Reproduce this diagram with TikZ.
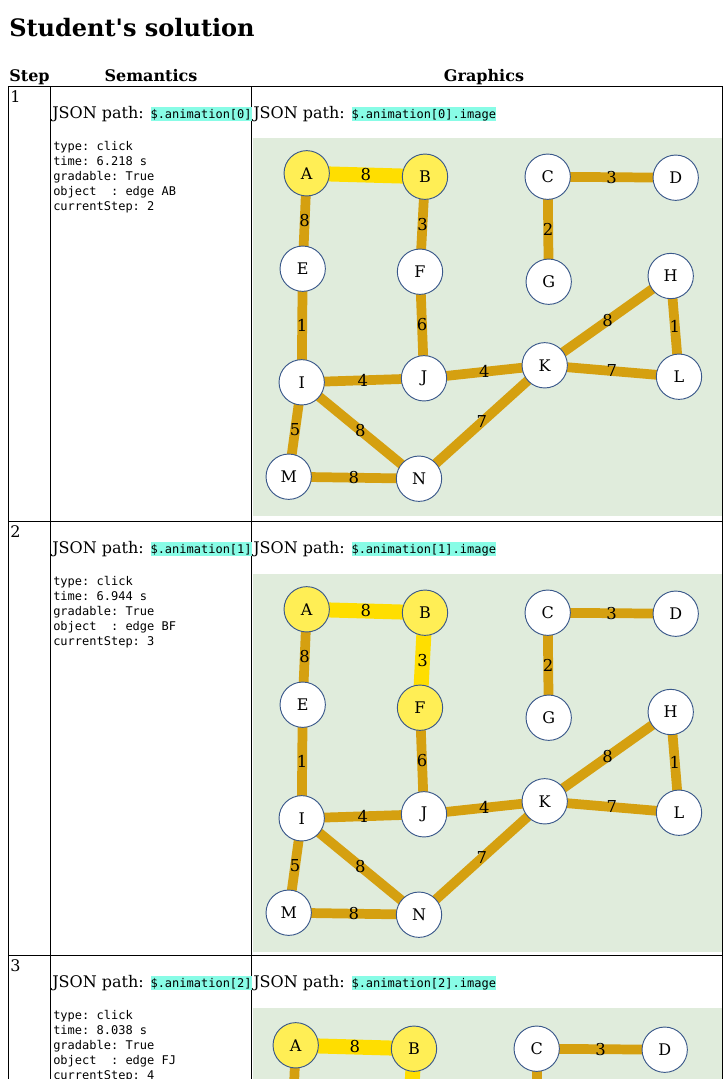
\documentclass[tikz,border=0pt]{standalone}
\usepackage{fontspec}
\setmainfont{DejaVu Serif}
\setmonofont{DejaVu Sans Mono}
\newfontfamily\rawserif{DejaVu Serif}
\usetikzlibrary{positioning, backgrounds}
\definecolor{panelgreen}{RGB}{224, 236, 220}
\definecolor{edgeorange}{RGB}{213, 160, 16}
\definecolor{edgeyellow}{RGB}{255, 222, 0}
\definecolor{nodeyellow}{RGB}{255, 238, 85}
\definecolor{nodeblue}{RGB}{58, 88, 138}
\definecolor{jsoncyan}{RGB}{136, 252, 230}
\setlength{\fboxsep}{0pt}
\newcommand{\jsoncode}[1]{\colorbox{jsoncyan}{\rule[-2.1pt]{0pt}{10.5pt}\ttfamily\fontsize{9}{11}\selectfont #1}}

\begin{document}
\begin{tikzpicture}[x=0.75pt, y=-0.75pt,
        % --- TikZ Styles ---
        titletext/.style={anchor=base west, inner sep=0, font=\rawserif\bfseries\fontsize{18}{22}\selectfont},
        headtext/.style={anchor=base, inner sep=0, font=\bfseries\fontsize{12}{14}\selectfont},
        celltext/.style={anchor=base west, inner sep=0, font=\fontsize{12}{14}\selectfont},
        eventtext/.style={anchor=north west, inner sep=0, align=left, font=\ttfamily\fontsize{9}{11.25}\selectfont},
        gridline/.style={draw=black, line width=0.75pt},
        panel/.style={fill=panelgreen},
        vertex/.style={circle, draw=nodeblue, line width=0.7pt, fill=white,
            minimum size=34pt, inner sep=0, font=\fontsize{12}{14}\selectfont},
        edge/.style={draw=edgeorange, line width=7.3pt},
        weight/.style={inner sep=0, font=\fontsize{12.3}{14}\selectfont},
        chosen/.style={fill=nodeyellow},
        chosenedge/.style={draw=edgeyellow, line width=11.25pt},
        % highlighted vertices and edges of each step
        hl1A/.style={chosen}, hl1B/.style={chosen}, hl1AB/.style={chosenedge},
        hl2A/.style={chosen}, hl2B/.style={chosen}, hl2F/.style={chosen},
        hl2AB/.style={chosenedge}, hl2BF/.style={chosenedge},
        hl3A/.style={chosen}, hl3B/.style={chosen}, hl3F/.style={chosen}, hl3J/.style={chosen},
        hl3AB/.style={chosenedge}, hl3BF/.style={chosenedge}, hl3FJ/.style={chosenedge}
    ]
    \useasboundingbox (0,0) rectangle (724,1079);
    \clip (0,0) rectangle (724,1079);

    % --- 1. TITLE AND HEADER ---
    \node[titletext] (title) at (9,36) {Student's solution};
    \node[headtext] (hstep) at (29.5,81) {Step};
    \node[headtext] (hsem) at (151,81) {Semantics};
    \node[headtext] (hgfx) at (484,81) {Graphics};

    % --- 2. TABLE RULES ---
    \draw[gridline] (8,1079) -- (8,86) -- (722.5,86) -- (722.5,1079);
    \draw[gridline] (50,86) -- (50,1079);
    \draw[gridline] (251,86) -- (251,1079);
    \draw[gridline] (8,521) -- (722.5,521);
    \draw[gridline] (8,955) -- (722.5,955);

    % --- 3. STEP, SEMANTICS AND PATH TEXTS ---
    \foreach \r/\k/\dy/\t/\e/\c in {1/0/0/6.218/AB/2, 2/1/435/6.944/BF/3, 3/2/869/8.038/FJ/4} {
        \begin{scope}[shift={(0,\dy)}]
            \node[celltext] (step\r) at (10,102) {\r};
            \node[celltext] (sem\r) at (52,118) {JSON path: \jsoncode{\$.animation[\k]}};
            \node[celltext] (gfx\r) at (253,118) {JSON path: \jsoncode{\$.animation[\k].image}};
            \node[eventtext] (event\r) at (53,141) {type: click\\time: \t{} s\\gradable: True\\object\ \ : edge \e\\currentStep: \c};
        \end{scope}
    }

    % --- 4. GRAPH OF EACH STEP ---
    \foreach \r/\pdy/\dx/\dy in {1/0/0/0, 2/436/0/436, 3/870/-11/872} {
        \begin{scope}[on background layer, shift={(0,\pdy)}]
            \fill[panel] (253,138) rectangle (722,516);
        \end{scope}
        \begin{scope}[shift={(\dx,\dy)}]
            \foreach \n/\x/\y in {A/306.7/173.3, B/425/176.7, C/547.7/176.7, D/675.7/177.7,
                    E/302.7/268.7, F/420/271.7, G/548.7/281.7, H/670.7/276,
                    I/301.7/382.3, J/424/378.3, K/544.7/365.3, L/679/376.7,
                    M/288.7/476.7, N/419/478.7}
                \node[vertex, hl\r\n/.try] (\n\r) at (\x,\y) {\n};
            \begin{scope}[on background layer]
                \foreach \a/\b/\w in {A/B/8, A/E/8, B/F/3, C/D/3, C/G/2, E/I/1, F/J/6, I/J/4,
                        J/K/4, K/H/8, H/L/1, K/L/7, I/M/5, I/N/8, M/N/8, N/K/7}
                    \draw[edge, hl\r\a\b/.try] (\a\r.center) -- node[weight] {\w} (\b\r.center);
            \end{scope}
        \end{scope}
    }

\end{tikzpicture}
\end{document}
